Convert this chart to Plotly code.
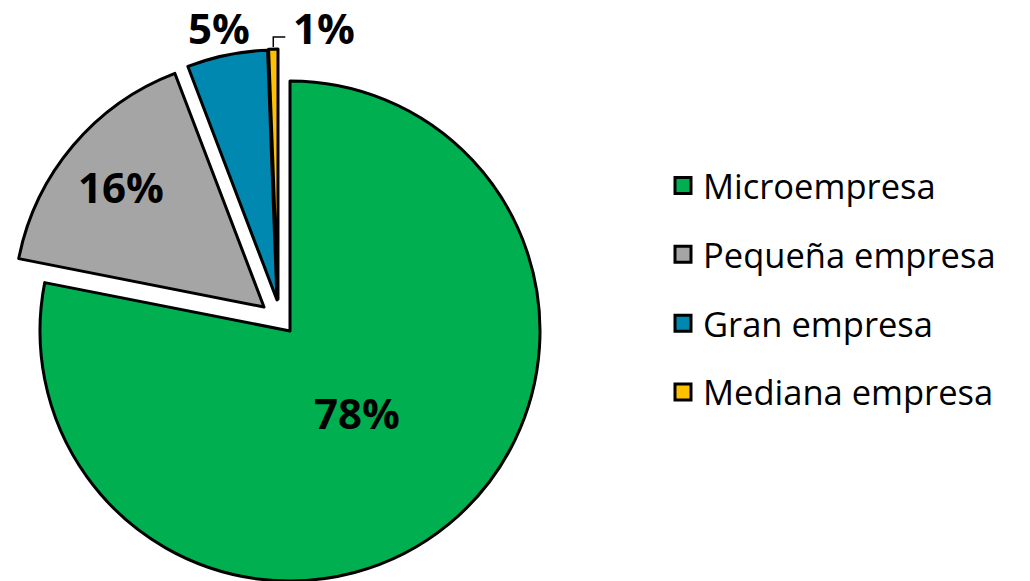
import math
import plotly.graph_objects as go

# datos del gráfico
categorias = ["Microempresa", "Pequeña empresa", "Gran empresa", "Mediana empresa"]
valores = [78.1, 16.1, 5.2, 0.6]
colores = ["#00B050", "#A5A5A5", "#0088B0", "#FFC000"]

W, H = 1030, 581
OFF = 8  # margen del <body> de la página
CX, CY, R = 290, 331, 250  # centro y radio del pastel (px)
# desplazamiento (px) de las porciones separadas
separacion = [(0, 0), (-26, -24), (-13, -31), (-12, -32)]
# posición de la etiqueta: fracción del radio sobre la bisectriz (>1 = fuera)
pos_etiqueta = [0.42, 0.75, None, None]


def papel(x, y):
    return (x - OFF) / W, 1 - (y - OFF) / H


total = sum(valores)
etiquetas = [f"{round(v / total * 100)}%" for v in valores]

fig = go.Figure()

# una traza por porción, para poder separarlas libremente
for i, cat in enumerate(categorias):
    dx, dy = separacion[i]
    x0, y1 = papel(CX + dx - R, CY + dy - R)
    x1, y0 = papel(CX + dx + R, CY + dy + R)
    fig.add_trace(go.Pie(
        labels=categorias,
        values=valores,
        sort=False,
        direction="clockwise",
        rotation=0,
        marker=dict(
            colors=[colores[j] if j == i else "rgba(0,0,0,0)" for j in range(4)],
            line=dict(color="black", width=[3 if j == i else 0 for j in range(4)]),
        ),
        textinfo="none",
        domain=dict(x=[x0, x1], y=[y0, y1]),
        showlegend=False,
        hoverinfo="label+percent",
    ))

# etiquetas de porcentaje
fuente = dict(family="Open Sans", size=42, color="black")
acum = 0
for i, v in enumerate(valores):
    ang = (acum + v / 2) / total * 2 * math.pi
    acum += v
    dx, dy = separacion[i]
    sx, sy = math.sin(ang), -math.cos(ang)
    if pos_etiqueta[i] is not None:
        tx, ty = papel(CX + dx + pos_etiqueta[i] * R * sx, CY + dy + pos_etiqueta[i] * R * sy)
        fig.add_annotation(x=tx, y=ty, xref="paper", yref="paper", text=f"<b>{etiquetas[i]}</b>",
                           showarrow=False, xanchor="center", yanchor="middle", font=fuente)
        continue
    bx, by = CX + dx + R * sx, CY + dy + R * sy
    if i == 2:
        tx, ty = papel(bx - 8, by - 28)
        fig.add_annotation(x=tx, y=ty, xref="paper", yref="paper", text=f"<b>{etiquetas[i]}</b>",
                           showarrow=False, xanchor="center", yanchor="middle", font=fuente)
    else:
        # línea guía en codo
        p1 = papel(bx, by - 2)
        p2 = papel(bx, by - 12)
        p3 = papel(bx + 12, by - 12)
        fig.add_shape(type="path", xref="paper", yref="paper",
                      path=f"M{p1[0]},{p1[1]} L{p2[0]},{p2[1]} L{p3[0]},{p3[1]}",
                      line=dict(color="black", width=1.5))
        tx, ty = papel(bx + 18, by - 22)
        fig.add_annotation(x=tx, y=ty, xref="paper", yref="paper", text=f"<b>{etiquetas[i]}</b>",
                           showarrow=False, xanchor="left", yanchor="middle", font=fuente)

# leyenda
for i, cat in enumerate(categorias):
    fig.add_trace(go.Scatter(
        x=[None], y=[None], mode="markers", name=cat, legendgroup=cat,
        marker=dict(symbol="square", size=16, color=colores[i], line=dict(color="black", width=3)),
    ))

lx, ly = papel(663, 289)
fig.update_layout(
    width=W, height=H,
    margin=dict(l=0, r=0, t=0, b=0),
    paper_bgcolor="white", plot_bgcolor="white",
    xaxis=dict(visible=False), yaxis=dict(visible=False),
    legend=dict(x=lx, y=ly, xanchor="left", yanchor="middle",
                traceorder="grouped", tracegroupgap=21,
                font=dict(family="Open Sans", size=34.5, color="black")),
)

fig.write_html("out.html")
